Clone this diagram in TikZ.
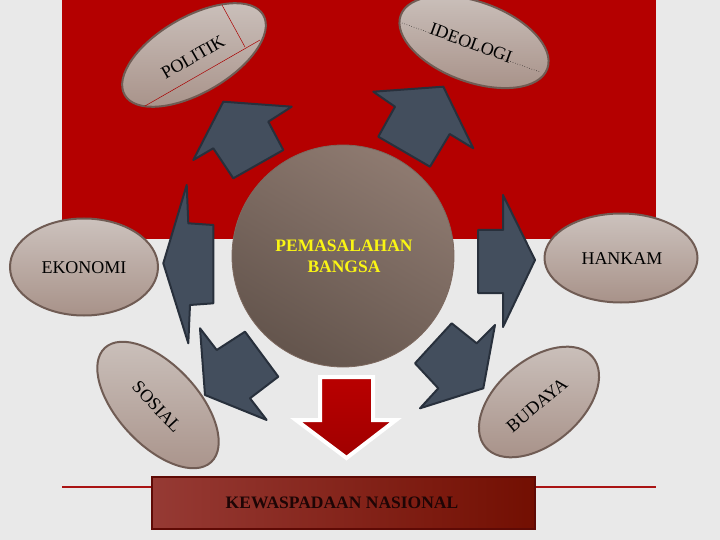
\documentclass[tikz,border=0pt]{standalone}
\usepackage{fontspec}
\setmainfont{Liberation Serif}
\usetikzlibrary{shapes.geometric}
\definecolor{bgc}{RGB}{233,233,233}
\definecolor{redbg}{RGB}{180,0,0}
\definecolor{redln}{RGB}{170,20,20}
\definecolor{arrfill}{RGB}{67,78,93}
\definecolor{arrline}{RGB}{40,48,60}
\definecolor{elltop}{RGB}{204,194,189}
\definecolor{ellbot}{RGB}{168,146,137}
\definecolor{ellline}{RGB}{112,92,84}
\definecolor{circA}{RGB}{142,122,112}
\definecolor{circB}{RGB}{100,85,77}
\definecolor{boxA}{RGB}{150,58,52}
\definecolor{boxB}{RGB}{115,15,2}
\definecolor{boxline}{RGB}{95,10,5}
\definecolor{txtyel}{RGB}{250,245,20}
\definecolor{politikln}{RGB}{170,0,0}
\tikzset{
  elli/.style={ellipse, draw=ellline, line width=2pt, top color=elltop, bottom color=ellbot, inner sep=0pt},
  lbl/.style={font=\fontsize{18}{21}\selectfont, text=black, inner sep=0pt},
  darr/.style={fill=arrfill, draw=arrline, line width=2pt, line join=round},
  redarr/.style={top color={rgb,255:red,185;green,0;blue,0}, bottom color={rgb,255:red,160;green,0;blue,0}, draw=white, line width=4pt, line join=miter}
}
\begin{document}
\begin{tikzpicture}[x=1pt,y=-1pt]
\useasboundingbox (0,0) rectangle (720,540);
\fill[bgc] (0,0) rectangle (720,540);
\fill[redbg] (62,0) rectangle (656,239);
\draw[redln, line width=2pt] (62,487) -- (656,487);

% ellipses
\node[elli, minimum width=160pt, minimum height=76pt, rotate=30] (politik) at (194,55) {};
\draw[politikln, line width=0.5pt] (145,106) -- (260,40);
\draw[politikln, line width=0.5pt] (222,5) -- (245,47);
\node[lbl, rotate=30] (politikt) at (193,57) {POLITIK};

\node[elli, minimum width=156pt, minimum height=80pt, rotate=-20] (ideologi) at (474,42) {};
\draw[black, line width=0.5pt, dotted] (402,23) -- (540,72);
\node[lbl, rotate=-20] (ideologit) at (471,43) {IDEOLOGI};

\node[elli, minimum width=148pt, minimum height=97pt] (ekonomi) at (84,267) {};
\node[lbl] (ekonomit) at (84,268) {EKONOMI};

\node[elli, minimum width=153pt, minimum height=89pt] (hankam) at (621,258) {};
\node[lbl] (hankamt) at (622,259) {HANKAM};

\node[elli, minimum width=156pt, minimum height=80pt, rotate=-47] (sosial) at (158,405) {};
\node[lbl, rotate=-47] (sosialt) at (157,407) {SOSIAL};

\node[elli, minimum width=140pt, minimum height=84pt, rotate=40] (budaya) at (539,402) {};
\node[lbl, rotate=40] (budayat) at (537,405) {BUDAYA};

% central circle
\node[circle, minimum size=222pt, inner sep=0pt, draw={rgb,255:red,125;green,105;blue,95}, line width=0.8pt, shading=axis, left color=circA, right color=circB, shading angle=-30] (centre) at (343,256) {};
\node[font=\bfseries\fontsize{17.5}{21}\selectfont, text=txtyel, align=center, inner sep=0pt] (centret) at (344,256) {PEMASALAHAN\\BANGSA};

% dark arrows
\draw[darr] (193.3,160) -- (223.3,101.7) -- (291.7,106.7) -- (268.3,121.7) -- (283.3,150) -- (233.3,178.3) -- (213.3,148.3) -- cycle;
\draw[darr] (373.3,91.7) -- (443.3,86.7) -- (473.3,148.3) -- (449.7,134) -- (430,166.7) -- (378.3,136.7) -- (395,106.7) -- cycle;
\draw[darr] (478,230) -- (503,230) -- (503,195) -- (535,260) -- (503,327) -- (503,293) -- (478,293) -- cycle;
\draw[darr] (451.7,323.3) -- (476.7,343.3) -- (495,325) -- (483.3,388.3) -- (420,408.3) -- (438.3,388.3) -- (415,363.3) -- cycle;
\draw[darr] (200,328.3) -- (216.7,350) -- (245,331.7) -- (278.3,376.7) -- (250,398.3) -- (266.7,420) -- (205,395) -- cycle;
\draw[darr] (213.3,225) -- (188.3,223.3) -- (186.7,185) -- (163.3,263.3) -- (188.3,343.3) -- (190,305) -- (213.3,303.3) -- cycle;

% red down arrow
\draw[redarr] (320,377) -- (373,377) -- (373,420) -- (396,420) -- (346.5,458) -- (296,420) -- (320,420) -- cycle;

% bottom box
\node[rectangle, minimum width=383pt, minimum height=52pt, inner sep=0pt, draw=boxline, line width=1.5pt, left color=boxA, right color=boxB] (kewas) at (343.5,503) {};
\node[font=\bfseries\fontsize{17.5}{21}\selectfont, text={rgb,255:red,30;green,5;blue,5}, inner sep=0pt] (kewast) at (342,503) {KEWASPADAAN NASIONAL};
\end{tikzpicture}
\end{document}
